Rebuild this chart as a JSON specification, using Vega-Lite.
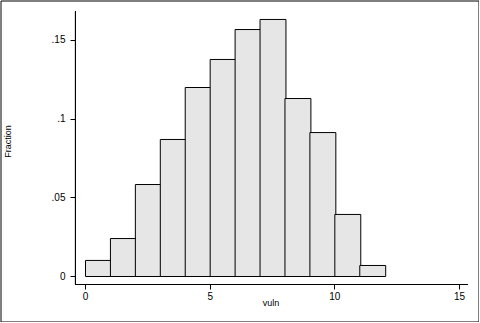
{
  "$schema": "https://vega.github.io/schema/vega-lite/v6.json",
  "width": 478,
  "height": 321,
  "autosize": {"type": "none"},
  "padding": {"left": 0.5, "top": 0.5, "right": 0, "bottom": 0},
  "background": "white",
  "config": {
    "view": {"stroke": "black", "strokeWidth": 1, "fill": "white"},
    "font": "Liberation Sans",
    "axis": {
      "domain": false,
      "grid": false,
      "translate": 0,
      "tickColor": "black",
      "tickWidth": 1,
      "tickSize": 5,
      "labelColor": "black",
      "labelFont": "Liberation Sans",
      "labelFontSize": 10,
      "titleFont": "Liberation Sans",
      "titleFontSize": 9,
      "titleFontWeight": "normal",
      "titleColor": "black"
    }
  },
  "data": {
    "values": [
      {"bin_start": 0, "bin_end": 1, "fraction": 0.0102},
      {"bin_start": 1, "bin_end": 2, "fraction": 0.0241},
      {"bin_start": 2, "bin_end": 3, "fraction": 0.0584},
      {"bin_start": 3, "bin_end": 4, "fraction": 0.0870},
      {"bin_start": 4, "bin_end": 5, "fraction": 0.1200},
      {"bin_start": 5, "bin_end": 6, "fraction": 0.1378},
      {"bin_start": 6, "bin_end": 7, "fraction": 0.1568},
      {"bin_start": 7, "bin_end": 8, "fraction": 0.1632},
      {"bin_start": 8, "bin_end": 9, "fraction": 0.1130},
      {"bin_start": 9, "bin_end": 10, "fraction": 0.0914},
      {"bin_start": 10, "bin_end": 11, "fraction": 0.0394},
      {"bin_start": 11, "bin_end": 12, "fraction": 0.0070}
    ]
  },
  "layer": [
    {
      "mark": {"type": "rect", "fill": "#e6e6e6", "stroke": "black", "strokeWidth": 1, "x2Offset": 1},
      "encoding": {
        "x": {
          "field": "bin_start",
          "type": "quantitative",
          "scale": {"domain": [-3.409, 15.762], "nice": false, "zero": false},
          "axis": {
            "orient": "bottom",
            "offset": -37,
            "values": [0, 5, 10, 15],
            "labelPadding": 2,
            "title": "vuln",
            "titleX": 270.5,
            "titleY": 18,
            "titleBaseline": "middle",
            "titleAlign": "center"
          }
        },
        "x2": {"field": "bin_end"},
        "y": {
          "field": "fraction",
          "type": "quantitative",
          "scale": {"domain": [-0.02857, 0.17524], "nice": false, "zero": false},
          "axis": {
            "orient": "left",
            "offset": -75,
            "values": [0, 0.05, 0.1, 0.15],
            "labelExpr": "datum.value == 0 ? '0' : replace(format(datum.value, '.2~f'), '0.', '.')",
            "labelPadding": 5,
            "title": "Fraction",
            "titleAngle": -90,
            "titleX": -68,
            "titleY": 141,
            "titleBaseline": "middle",
            "titleAlign": "center"
          }
        },
        "y2": {"datum": 0}
      }
    },
    {
      "mark": {"type": "rule", "color": "black", "strokeWidth": 1},
      "encoding": {
        "x": {"datum": -0.401, "type": "quantitative"},
        "y": {"datum": -0.00508, "type": "quantitative"},
        "y2": {"datum": 0.16825}
      }
    },
    {
      "mark": {"type": "rule", "color": "black", "strokeWidth": 1},
      "encoding": {
        "x": {"datum": -0.401, "type": "quantitative"},
        "x2": {"datum": 15.321},
        "y": {"datum": -0.00508, "type": "quantitative"}
      }
    }
  ]
}
